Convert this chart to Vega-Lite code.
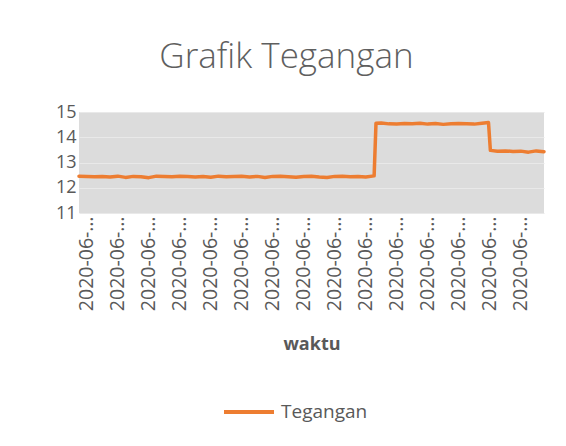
{
  "$schema": "https://vega.github.io/schema/vega-lite/v6.json",
  "width": 465,
  "height": 101,
  "autosize": {"type": "none"},
  "padding": {"left": 79, "top": 112, "right": 22, "bottom": 233},
  "background": "white",
  "title": {
    "text": "Grafik Tegangan",
    "anchor": "middle",
    "frame": "group",
    "dx": -25,
    "offset": 28,
    "fontSize": 35,
    "font": "Open Sans",
    "fontWeight": 300,
    "color": "#5f5f5f"
  },
  "config": {
    "font": "Open Sans",
    "view": {"fill": "#dcdcdc", "stroke": null}
  },
  "data": {
    "values": [
      {"t": -2.5, "v": 12.46}, {"t": 0, "v": 12.45}, {"t": 2.5, "v": 12.44}, {"t": 5, "v": 12.45},
      {"t": 7.5, "v": 12.43}, {"t": 10, "v": 12.46}, {"t": 12.5, "v": 12.41}, {"t": 15, "v": 12.45},
      {"t": 17.5, "v": 12.44}, {"t": 20, "v": 12.40}, {"t": 22.5, "v": 12.46}, {"t": 25, "v": 12.45},
      {"t": 27.5, "v": 12.44}, {"t": 30, "v": 12.46}, {"t": 32.5, "v": 12.45}, {"t": 35, "v": 12.43},
      {"t": 37.5, "v": 12.45}, {"t": 40, "v": 12.42}, {"t": 42.5, "v": 12.46}, {"t": 45, "v": 12.44},
      {"t": 47.5, "v": 12.45}, {"t": 50, "v": 12.46}, {"t": 52.5, "v": 12.43}, {"t": 55, "v": 12.45},
      {"t": 57.5, "v": 12.41}, {"t": 60, "v": 12.45}, {"t": 62.5, "v": 12.46}, {"t": 65, "v": 12.44},
      {"t": 67.5, "v": 12.42}, {"t": 70, "v": 12.45}, {"t": 72.5, "v": 12.46}, {"t": 75, "v": 12.43},
      {"t": 77.5, "v": 12.41}, {"t": 80, "v": 12.45}, {"t": 82.5, "v": 12.46}, {"t": 85, "v": 12.44},
      {"t": 87.5, "v": 12.45}, {"t": 90, "v": 12.43}, {"t": 92.7, "v": 12.47},
      {"t": 93.3, "v": 14.55}, {"t": 95, "v": 14.56}, {"t": 97.5, "v": 14.53}, {"t": 100, "v": 14.52},
      {"t": 102.5, "v": 14.54}, {"t": 105, "v": 14.53}, {"t": 107.5, "v": 14.55}, {"t": 110, "v": 14.52},
      {"t": 112.5, "v": 14.54}, {"t": 115, "v": 14.51}, {"t": 117.5, "v": 14.53}, {"t": 120, "v": 14.54},
      {"t": 122.5, "v": 14.53}, {"t": 125, "v": 14.52}, {"t": 127.5, "v": 14.55}, {"t": 129.6, "v": 14.58},
      {"t": 130.2, "v": 13.48}, {"t": 132.5, "v": 13.45}, {"t": 135, "v": 13.46}, {"t": 137.5, "v": 13.44},
      {"t": 140, "v": 13.45}, {"t": 142.5, "v": 13.41}, {"t": 145, "v": 13.46}, {"t": 147.5, "v": 13.43}
    ]
  },
  "mark": {"type": "line", "strokeWidth": 3.5, "strokeCap": "round", "strokeJoin": "round"},
  "encoding": {
    "x": {
      "field": "t",
      "type": "quantitative",
      "scale": {"domain": [-2.5, 147.5], "nice": false, "zero": false},
      "axis": {
        "title": "waktu",
        "titleFontSize": 18,
        "titleFontWeight": "bold",
        "titleColor": "#595959",
        "titlePadding": 25,
        "values": [0, 10, 20, 30, 40, 50, 60, 70, 80, 90, 100, 110, 120, 130, 140],
        "labelExpr": "'2020-06-…'",
        "labelAngle": -90,
        "labelFontSize": 19.5,
        "labelColor": "#595959",
        "labelPadding": 3,
        "labelOverlap": false,
        "labelBound": false,
        "labelFlush": false,
        "ticks": false,
        "domain": false,
        "grid": false
      }
    },
    "y": {
      "field": "v",
      "type": "quantitative",
      "scale": {"domain": [11, 15], "nice": false, "zero": false},
      "axis": {
        "title": null,
        "values": [11, 12, 13, 14, 15],
        "labelFontSize": 18,
        "labelColor": "#595959",
        "labelPadding": 3,
        "ticks": false,
        "domain": false,
        "grid": true,
        "gridColor": "#e9e9e9",
        "gridWidth": 1
      }
    },
    "color": {
      "datum": "Tegangan",
      "type": "nominal",
      "scale": {"range": ["#ED7D31"]},
      "legend": {
        "title": null,
        "orient": "none",
        "legendX": 143,
        "legendY": 273,
        "symbolType": "stroke",
        "symbolSize": 2500,
        "symbolStrokeWidth": 4,
        "labelFontSize": 19,
        "labelColor": "#595959",
        "labelOffset": 5
      }
    }
  }
}
